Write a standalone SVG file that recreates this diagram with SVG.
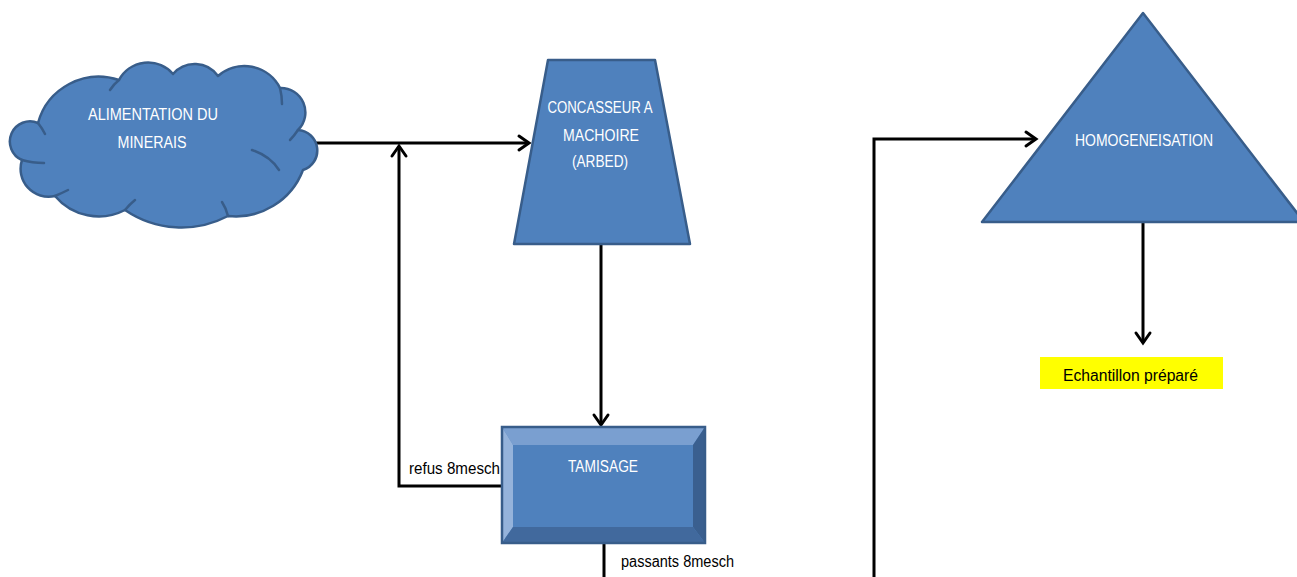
<svg xmlns="http://www.w3.org/2000/svg" width="1297" height="577" viewBox="0 0 1297 577">
<style>
.shape{fill:#4F81BD;stroke:#385D8A;stroke-width:2.5;stroke-linejoin:round}
.lbl{font-family:"Liberation Sans",Arial,sans-serif;font-size:16px;fill:#FFFFFF;text-anchor:middle}
.note{font-family:"Liberation Sans",Arial,sans-serif;font-size:16px;fill:#000000}
.conn{fill:none;stroke:#000000;stroke-width:3;stroke-linejoin:miter}
.inner{fill:none;stroke:#385D8A;stroke-width:2.5;stroke-linecap:round}
</style>
<defs>
<marker id="arr" markerUnits="userSpaceOnUse" markerWidth="16" markerHeight="18" refX="12" refY="9" orient="auto" overflow="visible">
<path d="M2,2 L12,9 L2,16" fill="none" stroke="#000000" stroke-width="3" stroke-linecap="round" stroke-linejoin="miter"/>
</marker>
</defs>
<rect width="1297" height="577" fill="#FFFFFF"/>
<g id="connectors">
<path class="conn" d="M315,143 H529" marker-end="url(#arr)"/>
<path class="conn" d="M502,486 H399 V146" marker-end="url(#arr)"/>
<path class="conn" d="M601,245 V425" marker-end="url(#arr)"/>
<path class="conn" d="M604,543 V577"/>
<path class="conn" d="M874,577 V139 H1036" marker-end="url(#arr)"/>
<path class="conn" d="M1143,222 V343" marker-end="url(#arr)"/>
<text class="note" x="409" y="474" textLength="91" lengthAdjust="spacingAndGlyphs">refus 8mesch</text>
<text class="note" x="621" y="567" textLength="113" lengthAdjust="spacingAndGlyphs">passants 8mesch</text>
</g>
<g id="alimentation">
<path class="shape" d="M38,123 A63,63 0 0 1 119,80 A33,33 0 0 1 173,74 A28.5,28.5 0 0 1 218,76 A40,40 0 0 1 280,88 A24.5,24.5 0 0 1 298,130 A20.5,20.5 0 0 1 303,170 A72,72 0 0 1 228,216 A100,100 0 0 1 125,210 A57,57 0 0 1 55,196 A28,28 0 0 1 22,160 A20,20 0 0 1 38,123 Z"/>
<path class="inner" d="M38,123 Q42,128 45,134"/>
<path class="inner" d="M119,80 Q114,84 110,90"/>
<path class="inner" d="M280,88 Q282,96 282,104"/>
<path class="inner" d="M298,130 Q294,136 290,140"/>
<path class="inner" d="M252,150 Q270,156 279,170"/>
<path class="inner" d="M228,216 Q226,208 222,202"/>
<path class="inner" d="M125,210 Q130,204 135,200"/>
<path class="inner" d="M55,196 Q62,193 68,190"/>
<path class="inner" d="M22,160 Q32,163 44,163"/>
<text class="lbl" x="153" y="120" textLength="130" lengthAdjust="spacingAndGlyphs">ALIMENTATION DU</text>
<text class="lbl" x="152" y="148" textLength="69" lengthAdjust="spacingAndGlyphs">MINERAIS</text>
</g>
<g id="concasseur">
<path class="shape" d="M548,60 L655,60 L690,244 L514,244 Z"/>
<text class="lbl" x="600" y="113" textLength="105" lengthAdjust="spacingAndGlyphs">CONCASSEUR A</text>
<text class="lbl" x="601" y="141" textLength="76" lengthAdjust="spacingAndGlyphs">MACHOIRE</text>
<text class="lbl" x="600" y="167" textLength="56" lengthAdjust="spacingAndGlyphs">(ARBED)</text>
</g>
<g id="tamisage">
<rect x="502" y="427" width="203" height="116" fill="#4F81BD"/>
<polygon points="502,427 705,427 693,445 513,445" fill="#7A9FD0"/>
<polygon points="502,427 513,445 513,527 502,543" fill="#95B3DB"/>
<polygon points="705,427 705,543 693,527 693,445" fill="#3A5F8F"/>
<polygon points="502,543 705,543 693,527 513,527" fill="#41699D"/>
<rect x="513" y="445" width="180" height="82" fill="#4F81BD"/>
<rect x="502" y="427" width="203" height="116" fill="none" stroke="#385D8A" stroke-width="2.5"/>
<text class="lbl" x="603" y="472" textLength="70" lengthAdjust="spacingAndGlyphs">TAMISAGE</text>
</g>
<g id="homogeneisation">
<path class="shape" d="M1143,13 L1304,222 L982,222 Z"/>
<text class="lbl" x="1144" y="146" textLength="138" lengthAdjust="spacingAndGlyphs">HOMOGENEISATION</text>
</g>
<g id="echantillon">
<rect x="1040" y="357" width="183" height="32" fill="#FFFF00"/>
<text class="note" x="1063" y="381" textLength="135" lengthAdjust="spacingAndGlyphs">Echantillon préparé</text>
</g>
</svg>
